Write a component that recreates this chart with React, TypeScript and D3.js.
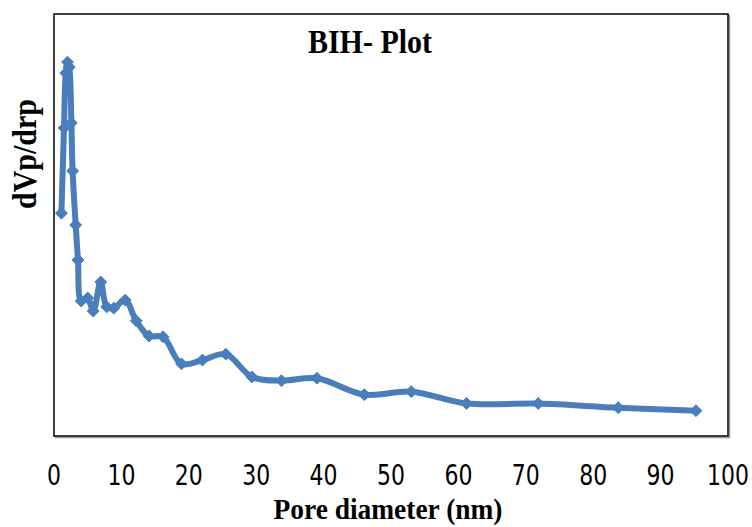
import React, { useEffect, useRef } from 'react';
import * as d3 from 'd3';

// pore diameter (nm) and dVp/drp (arbitrary units)
const poreDiameter = [
  1.1, 1.48, 1.74, 2.0, 2.26, 2.58, 2.76, 3.22, 3.56, 4.04, 5.0, 5.82, 6.93, 7.82, 8.86,
  10.57, 12.2, 14.1, 16.18, 18.91, 22.03, 25.49, 29.35, 33.75, 39.0, 46.04, 53.02,
  61.21, 71.84, 83.72, 95.25,
];
const dVpdrp = [
  52.8, 73.0, 86.0, 88.6, 87.4, 74.2, 62.8, 50.0, 41.7, 32.0, 32.7, 29.6, 36.5, 30.6, 30.3,
  32.2, 27.3, 23.7, 23.5, 17.1, 18.0, 19.4, 14.0, 13.1, 13.7, 9.8, 10.5,
  7.7, 7.7, 6.7, 6.0,
];
const xTicks = [0, 10, 20, 30, 40, 50, 60, 70, 80, 90, 100];

const W = 752;
const H = 527;
const margin = { top: 14, right: 24, bottom: 91, left: 54 };
const blue = '#4a7ebb';
const serif = '"Liberation Serif", "Times New Roman", serif';

const App = () => {
  const svgRef = useRef<SVGSVGElement>(null);

  useEffect(() => {
    const svg = d3.select(svgRef.current);
    svg.selectAll('*').remove();

    const width = W - margin.left - margin.right;
    const height = H - margin.top - margin.bottom;

    const data = poreDiameter.map((x, i) => ({ x, y: dVpdrp[i] }));

    const x = d3.scaleLinear().domain([0, 100]).range([0, width]);
    const y = d3.scaleLinear().domain([0, 100]).range([height, 0]);

    const g = svg.append('g').attr('transform', `translate(${margin.left},${margin.top})`);

    // frame with a soft shadow, like the original
    g.append('rect')
      .attr('x', 1.5).attr('y', 1.5)
      .attr('width', width).attr('height', height)
      .attr('fill', 'none').attr('stroke', '#9a9a9a').attr('stroke-width', 1.5);
    g.append('rect')
      .attr('width', width).attr('height', height)
      .attr('fill', '#fff').attr('stroke', '#000').attr('stroke-width', 1.5);

    // x tick labels only (no tick marks)
    g.append('g')
      .selectAll('text')
      .data(xTicks)
      .enter().append('text')
      .attr('transform', d => `translate(${x(d)},${height + 49}) scale(0.94,1.08)`)
      .attr('text-anchor', 'middle')
      .style('font-family', '"Liberation Sans Narrow", "DejaVu Sans Condensed", "Arial Narrow", sans-serif')
      .style('font-stretch', 'condensed')
      .style('font-size', '26px')
      .attr('fill', '#000')
      .text(d => d);

    const line = d3.line<{ x: number; y: number }>()
      .x(d => x(d.x))
      .y(d => y(d.y))
      .curve(d3.curveCatmullRom.alpha(0.5));

    g.append('path')
      .datum(data)
      .attr('fill', 'none')
      .attr('stroke', blue)
      .attr('stroke-width', 6)
      .attr('stroke-linejoin', 'round')
      .attr('d', line);

    const diamond = d3.symbol().type(d3.symbolDiamond2).size(90);
    g.selectAll('.dot')
      .data(data)
      .enter().append('path')
      .attr('class', 'dot')
      .attr('transform', d => `translate(${x(d.x)},${y(d.y)})`)
      .attr('d', diamond)
      .attr('fill', blue)
      .attr('stroke', blue)
      .attr('stroke-width', 1);

    // title
    svg.append('text')
      .attr('transform', 'translate(370,53) scale(1,1.1)')
      .attr('text-anchor', 'middle')
      .style('font-family', serif)
      .style('font-weight', 'bold')
      .style('font-size', '30px')
      .text('BIH- Plot');

    // x axis label
    svg.append('text')
      .attr('transform', 'translate(388,519) scale(0.98,1.08)')
      .attr('text-anchor', 'middle')
      .style('font-family', serif)
      .style('font-weight', 'bold')
      .style('font-size', '28px')
      .text('Pore diameter (nm)');

    // y axis label
    svg.append('text')
      .attr('transform', 'translate(36,154) rotate(-90) scale(1,1.1)')
      .attr('text-anchor', 'middle')
      .style('font-family', serif)
      .style('font-weight', 'bold')
      .style('font-size', '30px')
      .text('dVp/drp');
  }, []);

  return (
    <div style={{ position: 'absolute', left: 0, top: 0 }}>
      <svg ref={svgRef} width={W} height={H} style={{ display: 'block', background: '#fff' }}></svg>
    </div>
  );
};

export default App;
